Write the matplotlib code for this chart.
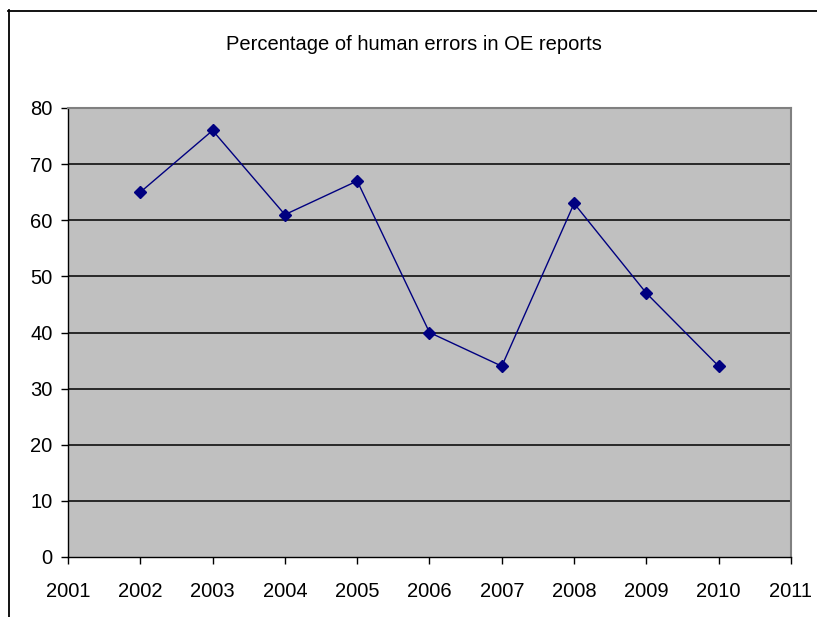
import matplotlib
matplotlib.use("Agg")
import matplotlib.pyplot as plt
from matplotlib.lines import Line2D

# ------------ data ------------
years = [2002, 2003, 2004, 2005, 2006, 2007, 2008, 2009, 2010]
human_error_pct = [65, 76, 61, 67, 40, 34, 63, 47, 34]

x_ticks = list(range(2001, 2012))
y_ticks = list(range(0, 81, 10))

# ------------ plotting ------------
plt.rcParams['font.family'] = ['Liberation Sans', 'DejaVu Sans']

fig = plt.figure(figsize=(8.17, 6.17), dpi=100)
W, H = 817, 617

# chart frame (only top and left edges are visible)
fig.add_artist(Line2D([8.5 / W, 8.5 / W], [0, 1 - 10 / H], color='black',
                      linewidth=1.3, transform=fig.transFigure))
fig.add_artist(Line2D([8 / W, 1], [1 - 10.5 / H, 1 - 10.5 / H], color='black',
                      linewidth=1.3, transform=fig.transFigure))

ax = fig.add_axes([68 / W, 1 - 557 / H, (791 - 68) / W, (557 - 108) / H])
ax.set_facecolor('#c0c0c0')

for y in y_ticks[1:-1]:
    ax.axhline(y, color='black', linewidth=1.1, zorder=1)

ax.plot(years, human_error_pct, color='#000080', linewidth=1.0,
        marker='D', markersize=6.3, markerfacecolor='#000080',
        markeredgecolor='#000080', zorder=3)

ax.set_xlim(2001, 2011)
ax.set_ylim(0, 80)
ax.set_xticks(x_ticks)
ax.set_yticks(y_ticks)
ax.tick_params(axis='both', direction='out', length=5, width=1.0,
               labelsize=14.5, colors='black')
ax.tick_params(axis='x', pad=13)
ax.tick_params(axis='y', pad=6)

for side in ('top', 'right'):
    ax.spines[side].set_color('#808080')
    ax.spines[side].set_linewidth(1.5)
for side in ('left', 'bottom'):
    ax.spines[side].set_color('black')
    ax.spines[side].set_linewidth(1.0)

fig.text(414 / W, 1 - 44 / H, 'Percentage of human errors in OE reports',
         ha='center', va='center', fontsize=14.5)

fig.savefig('out.png', dpi=100)
